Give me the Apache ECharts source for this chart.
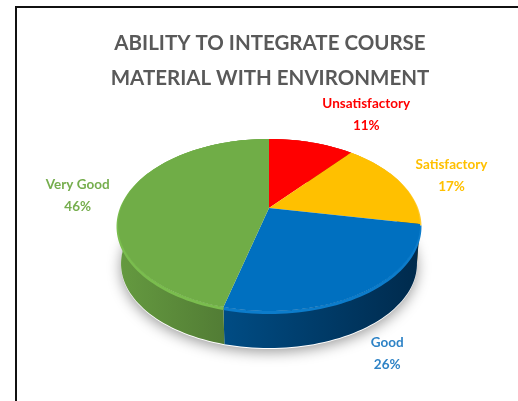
<!DOCTYPE html>
<html>
<head>
<meta charset="utf-8">
<title>Ability to integrate course material with environment</title>
<script src="https://cdn.jsdelivr.net/npm/echarts@6/dist/echarts.min.js"></script>
<style>
  html, body { margin: 0; padding: 0; background: #fff; }
  #main { width: 518px; height: 401px; }
</style>
</head>
<body>
<div id="main"></div>
<script>
// chart values
var categories = ['Unsatisfactory', 'Satisfactory', 'Good', 'Very Good'];
var shares = [11, 17, 26, 46];
var titleLines = ['ABILITY TO INTEGRATE COURSE', 'MATERIAL WITH ENVIRONMENT'];

// slice styles, same order as categories
var topColors = ['#FF0000', '#FFC000', '#0070C0', '#70AD47'];
var rimColors = ['#FF2A2A', '#FFCB30', '#0C7CCB', '#7ABD4E'];
var wallFrom = ['#A80000', '#A87E00', '#004C84', '#659A40'];
var wallTo = ['#800000', '#806000', '#002A4C', '#4A7030'];
// label offset from the rim point at the middle of each slice
var labelOffsets = [[55, -28], [52, -6], [23, 62], [-48, -2]];

// the disc is a circle seen in perspective
var cx = 269, cy = 208;
var radiusX = 148, radiusY = 82.7, tilt = 0.198;
var depth = 39, bottomScale = 0.98;

var total = shares.reduce(function (a, b) { return a + b; }, 0);
var starts = [];
shares.reduce(function (sum, v, i) { starts[i] = sum; return sum + v; }, 0);

function project(share) {
  var t = share / total * Math.PI * 2;
  var u = Math.sin(t), v = Math.cos(t);
  var d = 1 + tilt * v;
  return [cx + radiusX * u / d, cy - radiusY * v / d];
}
function toBottom(p) {
  return [cx + (p[0] - cx) * bottomScale, cy + depth + (p[1] - cy) * bottomScale];
}
function arc(from, to) {
  var pts = [];
  var n = Math.max(2, Math.ceil((to - from) * 2));
  for (var i = 0; i <= n; i++) {
    pts.push(project(from + (to - from) * i / n));
  }
  return pts;
}

function renderShadow(params, api) {
  var pts = arc(0, total).map(function (p) {
    var b = toBottom(p);
    return [b[0], b[1] + 1];
  });
  return {
    type: 'polygon',
    shape: { points: pts },
    style: { fill: '#ffffff', shadowBlur: 14, shadowColor: 'rgba(0,0,0,0.4)', shadowOffsetY: 3 }
  };
}

function renderWall(params, api) {
  var i = params.dataIndex;
  var value = api.value(0);
  var top = arc(starts[i], starts[i] + value);
  var bottom = top.map(toBottom).reverse();
  return {
    type: 'group',
    children: [{
      type: 'polygon',
      shape: { points: top.concat(bottom) },
      style: {
        fill: new echarts.graphic.LinearGradient(0, 0, 1, 0, [
          { offset: 0, color: wallFrom[i] },
          { offset: 1, color: wallTo[i] }
        ])
      }
    }, {
      type: 'polyline',
      shape: { points: top.map(function (p) { return [p[0], p[1] + 1.5]; }) },
      style: { fill: null, stroke: rimColors[i], lineWidth: 3 }
    }]
  };
}

function renderTop(params, api) {
  var i = params.dataIndex;
  var value = api.value(0);
  var pts = [[cx, cy]].concat(arc(starts[i], starts[i] + value));
  var mid = project(starts[i] + value / 2);
  return {
    type: 'group',
    children: [{
      type: 'polygon',
      shape: { points: pts },
      style: { fill: topColors[i] }
    }, {
      type: 'text',
      style: {
        x: mid[0] + labelOffsets[i][0],
        y: mid[1] + labelOffsets[i][1],
        text: categories[i] + '\n' + value + '%',
        fill: i === 2 ? '#2E83C6' : (i === 3 ? '#76AE4E' : topColors[i]),
        font: 'bold 13.5px Lato',
        lineHeight: 22,
        align: 'center',
        verticalAlign: 'middle'
      }
    }]
  };
}

var seriesData = shares.map(function (v, i) { return { name: categories[i], value: [v] }; });

var myChart = echarts.init(document.getElementById('main'));
myChart.setOption({
  animation: false,
  backgroundColor: '#ffffff',
  title: {
    text: titleLines.join('\n'),
    left: 265,
    top: 21,
    textAlign: 'center',
    textStyle: {
      fontFamily: 'Lato',
      fontWeight: 'bold',
      fontSize: 20.5,
      lineHeight: 35,
      color: '#595959'
    }
  },
  graphic: [
    { type: 'rect', shape: { x: 15, y: 6, width: 503, height: 2 }, style: { fill: '#111111' } },
    { type: 'rect', shape: { x: 15, y: 6, width: 2, height: 395 }, style: { fill: '#111111' } }
  ],
  series: [
    { type: 'custom', coordinateSystem: 'none', z: 1, silent: true, data: [[total]], renderItem: renderShadow },
    { type: 'custom', coordinateSystem: 'none', z: 2, silent: true, data: seriesData, renderItem: renderWall },
    { type: 'custom', coordinateSystem: 'none', z: 3, silent: true, data: seriesData, renderItem: renderTop }
  ]
});
</script>
</body>
</html>
